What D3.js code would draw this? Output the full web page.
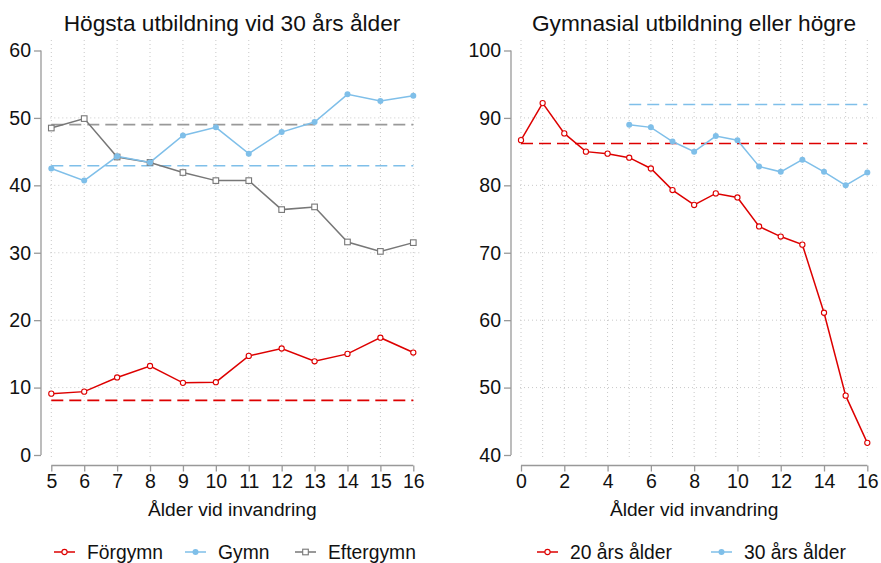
<!DOCTYPE html>
<html>
<head>
<meta charset="utf-8">
<script src="https://cdn.jsdelivr.net/npm/d3@7"></script>
<style>
  body { margin: 0; background: #fff; }
  text { font-family: "Liberation Sans", Arial, sans-serif; fill: #111; }
</style>
</head>
<body>
<svg id="chart" width="881" height="563"></svg>
<script>
// left panel: highest education at age 30
var leftAges = [5, 6, 7, 8, 9, 10, 11, 12, 13, 14, 15, 16];
var forgymn = [9.1, 9.4, 11.5, 13.2, 10.7, 10.8, 14.7, 15.8, 13.9, 15.0, 17.4, 15.2];
var gymn = [42.5, 40.7, 44.3, 43.4, 47.4, 48.6, 44.7, 47.9, 49.4, 53.5, 52.5, 53.3];
var eftergymn = [48.5, 49.9, 44.2, 43.4, 41.9, 40.7, 40.7, 36.4, 36.8, 31.6, 30.2, 31.5];
var leftRefs = [8.1, 42.9, 49.0]; // Förgymn, Gymn, Eftergymn reference levels
var leftYTicks = [0, 10, 20, 30, 40, 50, 60];

// right panel: upper secondary or higher
var rightAges = [0, 1, 2, 3, 4, 5, 6, 7, 8, 9, 10, 11, 12, 13, 14, 15, 16];
var at20 = [86.7, 92.2, 87.7, 85.0, 84.7, 84.1, 82.5, 79.3, 77.1, 78.8, 78.2, 73.9, 72.4, 71.2, 61.1, 48.8, 41.8];
var ages30 = [5, 6, 7, 8, 9, 10, 11, 12, 13, 14, 15, 16];
var at30 = [89.0, 88.6, 86.5, 85.0, 87.3, 86.7, 82.8, 82.0, 83.8, 82.0, 80.0, 81.9];
var rightRefs = [86.2, 92.0];
var rightYTicks = [40, 50, 60, 70, 80, 90, 100];
var rightXTicks = [0, 2, 4, 6, 8, 10, 12, 14, 16];

var red = "#dd0000", blue = "#7fbfe9", gray = "#777777", dgray = "#999999";

var svg = d3.select("#chart");

function panel(opt) {
  var g = svg.append("g");
  var x = d3.scaleLinear().domain(opt.xDomain).range(opt.xRange);
  var y = d3.scaleLinear().domain(opt.yDomain).range([455, 50.5]);

  // grid
  g.selectAll(".vg").data(opt.xGrid).enter().append("line")
    .attr("x1", d => x(d)).attr("x2", d => x(d))
    .attr("y1", 40).attr("y2", 458)
    .attr("stroke", "#c8c8c8").attr("stroke-dasharray", "1,3");
  g.selectAll(".hg").data(opt.yTicks.slice(1, -1)).enter().append("line")
    .attr("x1", opt.xRange[0] - 1).attr("x2", opt.xRange[1] + 9)
    .attr("y1", d => y(d)).attr("y2", d => y(d))
    .attr("stroke", "#c8c8c8").attr("stroke-dasharray", "1,3");

  // axes
  var ya = g.append("g").attr("transform", "translate(" + opt.yAxisX + ",0)")
    .call(d3.axisLeft(y).tickValues(opt.yTicks).tickSize(7).tickPadding(3));
  var xa = g.append("g").attr("transform", "translate(0,465.5)")
    .call(d3.axisBottom(x).tickValues(opt.xTicks).tickSize(6).tickPadding(3));
  [ya, xa].forEach(function(a) {
    a.selectAll(".tick line").attr("stroke", "#999").attr("stroke-width", 1.3);
    a.selectAll(".tick text").style("font-size", "19.5px").attr("fill", "#111")
      .style("font-family", "Liberation Sans, Arial, sans-serif");
  });
  ya.select(".domain").remove();
  xa.select(".domain").remove();
  g.append("line").attr("x1", opt.yAxisX).attr("x2", opt.yAxisX)
    .attr("y1", y(opt.yDomain[1])).attr("y2", y(opt.yDomain[0]))
    .attr("stroke", "#999").attr("stroke-width", 1.3);
  g.append("line").attr("x1", x(opt.xDomain[0])).attr("x2", x(opt.xDomain[1]))
    .attr("y1", 465.5).attr("y2", 465.5)
    .attr("stroke", "#999").attr("stroke-width", 1.3);

  // titles
  g.append("text").attr("x", opt.titleX).attr("y", 31).attr("text-anchor", "middle")
    .style("font-size", "22.7px").text(opt.title);
  g.append("text").attr("x", (opt.xRange[0] + opt.xRange[1]) / 2).attr("y", 516)
    .attr("text-anchor", "middle").style("font-size", "19.2px").text("Ålder vid invandring");

  // reference lines
  opt.refs.forEach(function(r) {
    g.append("line").attr("x1", x(r.from)).attr("x2", x(r.to))
      .attr("y1", y(r.v)).attr("y2", y(r.v))
      .attr("stroke", r.color).attr("stroke-width", 1.6).attr("stroke-dasharray", "12,6");
  });

  // series
  var line = d3.line().x(d => x(d[0])).y(d => y(d[1]));
  opt.series.forEach(function(s) {
    var pts = s.xs.map((a, i) => [a, s.ys[i]]);
    g.append("path").datum(pts).attr("d", line).attr("fill", "none")
      .attr("stroke", s.color).attr("stroke-width", 1.5);
    drawMarkers(g, pts.map(p => [x(p[0]), y(p[1])]), s);
  });

  // legend
  opt.legend.forEach(function(it) {
    var lx = it.x;
    g.append("line").attr("x1", lx).attr("x2", lx + 21).attr("y1", 552).attr("y2", 552)
      .attr("stroke", it.s.color).attr("stroke-width", 1.5);
    drawMarkers(g, [[lx + 10.5, 552]], it.s);
    g.append("text").attr("x", lx + 33).attr("y", 559).style("font-size", "19.3px").text(it.label);
  });
}

function drawMarkers(g, pts, s) {
  pts.forEach(function(p) {
    if (s.marker === "square") {
      g.append("rect").attr("x", p[0] - 2.8).attr("y", p[1] - 2.8)
        .attr("width", 5.6).attr("height", 5.6)
        .attr("fill", "#fff").attr("stroke", s.color).attr("stroke-width", 1.1);
    } else if (s.marker === "hollow") {
      g.append("circle").attr("cx", p[0]).attr("cy", p[1]).attr("r", 2.6)
        .attr("fill", "#fff").attr("stroke", s.color).attr("stroke-width", 1.1);
    } else {
      g.append("circle").attr("cx", p[0]).attr("cy", p[1]).attr("r", 3)
        .attr("fill", s.color);
    }
  });
}

var sFor = { xs: leftAges, ys: forgymn, color: red, marker: "hollow" };
var sGym = { xs: leftAges, ys: gymn, color: blue, marker: "filled" };
var sEft = { xs: leftAges, ys: eftergymn, color: gray, marker: "square" };

panel({
  title: "Högsta utbildning vid 30 års ålder", titleX: 232,
  xDomain: [5, 16], xRange: [51.3, 413.3], yDomain: [0, 60], yAxisX: 41,
  xTicks: leftAges, xGrid: leftAges, yTicks: leftYTicks,
  refs: [
    { v: leftRefs[0], from: 5, to: 16, color: red },
    { v: leftRefs[1], from: 5, to: 16, color: blue },
    { v: leftRefs[2], from: 5, to: 16, color: dgray }
  ],
  series: [sEft, sGym, sFor],
  legend: [
    { x: 54, label: "Förgymn", s: sFor },
    { x: 185, label: "Gymn", s: sGym },
    { x: 295, label: "Eftergymn", s: sEft }
  ]
});

var s20 = { xs: rightAges, ys: at20, color: red, marker: "hollow" };
var s30 = { xs: ages30, ys: at30, color: blue, marker: "filled" };

panel({
  title: "Gymnasial utbildning eller högre", titleX: 694,
  xDomain: [0, 16], xRange: [521, 867.3], yDomain: [40, 100], yAxisX: 511,
  xTicks: rightXTicks, xGrid: rightAges, yTicks: rightYTicks,
  refs: [
    { v: rightRefs[0], from: 0, to: 16, color: red },
    { v: rightRefs[1], from: 5, to: 16, color: blue }
  ],
  series: [s30, s20],
  legend: [
    { x: 537, label: "20 års ålder", s: s20 },
    { x: 711, label: "30 års ålder", s: s30 }
  ]
});
</script>
</body>
</html>
